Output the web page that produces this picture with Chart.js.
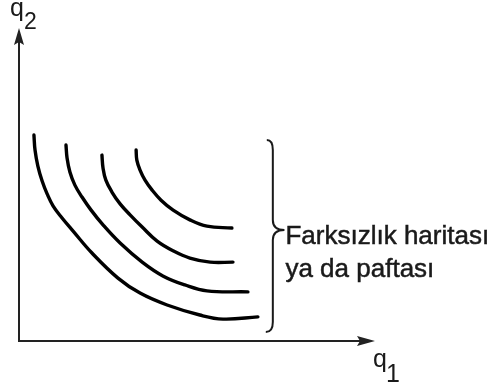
<!DOCTYPE html>
<html>
<head>
<meta charset="utf-8">
<script src="https://cdn.jsdelivr.net/npm/chart.js@4.4.1/dist/chart.umd.min.js"></script>
<style>
  html, body { margin: 0; padding: 0; background: #fff; }
  canvas { display: block; }
</style>
</head>
<body>
<canvas id="chart" width="494" height="387"></canvas>
<script>
// indifference curves (q1 and q2 on a 0-100 scale)
const curve1Q1 = [4.2, 4.5, 5.3, 6.5, 7.9, 9.6, 12.1, 15.2, 20.5, 27.8, 34.0, 41.6, 50.8, 57.3, 67.1];
const curve1Q2 = [65.8, 61.0, 55.9, 51.1, 47.0, 43.1, 39.3, 35.1, 28.1, 20.1, 15.3, 11.5, 8.3, 7.0, 7.7];
const curve2Q1 = [13.2, 13.5, 14.3, 15.7, 17.7, 20.2, 23.6, 28.4, 34.6, 40.4, 46.6, 52.8, 64.3];
const curve2Q2 = [62.6, 58.5, 54.0, 49.8, 46.0, 41.9, 37.1, 31.3, 25.2, 20.8, 17.9, 16.0, 15.7];
const curve3Q1 = [23.3, 23.6, 24.4, 26.1, 28.4, 31.2, 34.6, 38.8, 43.3, 48.0, 53.7, 60.1];
const curve3Q2 = [59.4, 55.3, 51.4, 47.6, 43.8, 40.3, 36.4, 31.9, 28.8, 26.5, 25.2, 25.2];
const curve4Q1 = [32.9, 33.1, 34.0, 35.4, 37.4, 39.9, 43.3, 48.0, 52.8, 59.8];
const curve4Q2 = [61.0, 57.8, 54.6, 51.4, 48.2, 45.0, 41.8, 38.7, 36.7, 36.1];

const axisX = 'q';
const axisXSub = '1';
const axisY = 'q';
const axisYSub = '2';
const braceText = ['Farksızlık haritası', 'ya da paftası'];
// brace span in data units
const braceQ1 = 71.3;
const braceTipQ1 = 74.0;
const braceTopQ2 = 64.2;
const braceMidQ2 = 35.5;
const braceBottomQ2 = 2.9;

const toPoints = (xs, ys) => xs.map((x, i) => ({ x: x, y: ys[i] }));

const curve = (xs, ys) => ({
  data: toPoints(xs, ys),
  showLine: true,
  borderColor: '#000',
  borderWidth: 3.4,
  pointRadius: 0,
  tension: 0.4,
  fill: false
});

const decor = {
  id: 'decor',
  afterDraw(chart) {
    const c = chart.ctx;
    const xs = chart.scales.x;
    const ys = chart.scales.y;
    const x0 = xs.getPixelForValue(0);
    const y0 = ys.getPixelForValue(0);
    const xEnd = xs.getPixelForValue(100);
    const yEnd = ys.getPixelForValue(100);

    c.save();
    c.strokeStyle = '#222';
    c.fillStyle = '#222';
    c.lineWidth = 2;

    // axes
    c.beginPath();
    c.moveTo(x0, yEnd + 12);
    c.lineTo(x0, y0);
    c.lineTo(xEnd - 14, y0);
    c.stroke();

    // arrow heads
    c.beginPath();
    c.moveTo(x0, yEnd);
    c.lineTo(x0 - 5, yEnd + 17);
    c.lineTo(x0, yEnd + 14);
    c.lineTo(x0 + 5, yEnd + 17);
    c.closePath();
    c.fill();

    c.beginPath();
    c.moveTo(xEnd, y0);
    c.lineTo(xEnd - 18, y0 - 5);
    c.lineTo(xEnd - 15, y0);
    c.lineTo(xEnd - 18, y0 + 5);
    c.closePath();
    c.fill();

    // brace
    const bx = xs.getPixelForValue(braceQ1);
    const tx = xs.getPixelForValue(braceTipQ1);
    const top = ys.getPixelForValue(braceTopQ2);
    const mid = ys.getPixelForValue(braceMidQ2);
    const bot = ys.getPixelForValue(braceBottomQ2);
    c.lineWidth = 2;
    c.strokeStyle = '#1a1a1a';
    c.beginPath();
    c.moveTo(bx - 6, top);
    c.quadraticCurveTo(bx, top, bx, top + 10);
    c.lineTo(bx, mid - 10);
    c.quadraticCurveTo(bx, mid, tx + 2, mid);
    c.quadraticCurveTo(bx, mid, bx, mid + 10);
    c.lineTo(bx, bot - 10);
    c.quadraticCurveTo(bx, bot, bx - 7, bot);
    c.stroke();

    // texts
    c.fillStyle = '#1a1a1a';
    c.strokeStyle = '#1a1a1a';
    c.lineWidth = 0.5;
    c.textBaseline = 'alphabetic';
    c.textAlign = 'left';
    c.font = "26px 'Liberation Sans', Arial, sans-serif";
    braceText.forEach((t, i) => {
      c.fillText(t, tx + 3, mid + 14 + i * 33);
      c.strokeText(t, tx + 3, mid + 14 + i * 33);
    });

    c.font = "25px 'Liberation Sans', Arial, sans-serif";
    c.fillText(axisY, x0 - 9, yEnd - 12);
    c.font = "23px 'Liberation Sans', Arial, sans-serif";
    c.fillText(axisYSub, x0 + 5, yEnd + 1);

    c.font = "25px 'Liberation Sans', Arial, sans-serif";
    c.fillText(axisX, xEnd - 2, y0 + 26);
    c.fillText(axisXSub, xEnd + 11, y0 + 41);
    c.restore();
  }
};

new Chart(document.getElementById('chart'), {
  type: 'scatter',
  data: {
    datasets: [
      curve(curve1Q1, curve1Q2),
      curve(curve2Q1, curve2Q2),
      curve(curve3Q1, curve3Q2),
      curve(curve4Q1, curve4Q2)
    ]
  },
  options: {
    responsive: false,
    animation: false,
    layout: { padding: { left: 19, right: 119, top: 28, bottom: 46 } },
    elements: { line: { borderCapStyle: 'round' } },
    scales: {
      x: { type: 'linear', min: 0, max: 100, display: false },
      y: { type: 'linear', min: 0, max: 100, display: false }
    },
    plugins: {
      legend: { display: false },
      tooltip: { enabled: false }
    }
  },
  plugins: [decor]
});
</script>
</body>
</html>
